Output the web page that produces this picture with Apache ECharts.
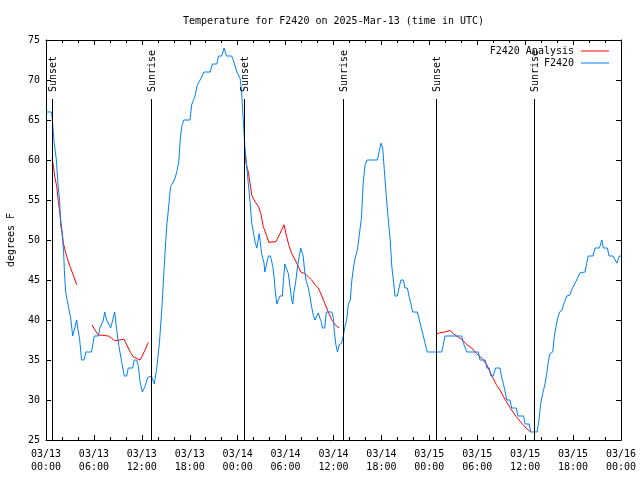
<!DOCTYPE html>
<html>
<head>
<meta charset="utf-8">
<script src="https://cdn.jsdelivr.net/npm/echarts@6/dist/echarts.min.js"></script>
<style>html,body{margin:0;padding:0;background:#fff}#c{width:640px;height:480px}</style>
</head>
<body>
<div id="c"></div>
<script>
// Hours since 03/13 00:00 UTC
const xTickLabels = ['03/13\n00:00','03/13\n06:00','03/13\n12:00','03/13\n18:00','03/14\n00:00','03/14\n06:00','03/14\n12:00','03/14\n18:00','03/15\n00:00','03/15\n06:00','03/15\n12:00','03/15\n18:00','03/16\n00:00'];

const stationHours = [0.0,0.7,0.8,1.0,1.3,1.5,1.7,1.85,2.0,2.2,2.3,2.46,2.8,3.1,3.34,3.6,3.84,3.97,4.2,4.46,4.75,5.0,5.7,6.05,6.55,6.76,6.97,7.18,7.35,7.6,7.8,8.1,8.35,8.6,8.85,9.1,9.47,9.8,10.1,10.3,10.85,11.05,11.35,11.56,11.77,12.06,12.4,12.73,12.9,13.2,13.56,13.85,14.2,14.5,14.78,15.1,15.4,15.6,15.8,16.15,16.4,16.65,16.8,17.0,17.25,18.03,18.24,18.45,18.66,18.95,19.3,19.55,19.8,20.55,20.85,21.4,21.6,22.0,22.3,22.6,23.25,23.45,23.9,24.3,24.5,24.7,24.9,25.1,25.33,25.55,25.76,25.96,26.17,26.4,26.6,26.7,26.9,27.0,27.3,27.4,27.6,27.84,28.1,28.4,28.55,28.7,28.9,29.1,29.3,29.6,29.7,29.9,30.14,30.35,30.55,30.77,30.9,31.05,31.27,31.47,31.7,31.9,32.1,32.2,32.4,32.6,32.85,33.06,33.27,33.47,33.68,33.9,34.1,34.3,34.5,34.6,34.9,35.1,35.8,36.0,36.1,36.3,36.5,36.7,37.0,37.2,37.4,37.65,37.86,38.1,38.3,38.5,38.7,39.0,39.2,39.3,39.5,39.7,39.95,40.2,41.5,41.7,41.95,42.16,42.36,42.6,42.9,43.1,43.3,43.5,43.7,44.0,44.2,44.45,44.75,44.95,45.25,45.45,45.7,45.9,46.5,46.75,47.0,47.25,47.46,47.75,49.55,49.75,49.96,52.05,52.26,52.5,52.7,54.13,54.35,55.0,55.2,55.5,55.7,56.0,56.3,56.85,57.06,57.3,57.5,57.7,58.1,58.3,58.9,59.1,59.8,60.0,60.5,60.7,61.5,61.77,61.95,62.2,62.5,62.7,62.9,63.1,63.45,63.65,63.86,64.07,64.3,64.6,64.8,65.0,65.2,65.6,65.8,66.05,66.25,66.45,66.65,66.87,67.1,67.5,67.7,67.9,68.5,68.75,69.3,69.6,69.8,70.3,70.5,71.0,71.5,71.8,72.0];
const stationTemps = [66,66,65,62.3,60,57,55,51.7,51,48.7,46.2,43.5,41.7,40.2,38,39,40,39,37.7,35,35,36,36,38,38,39,39,40,41,40,40,39,40,41,38.8,36.9,34.8,33,33,34,34,35,35,34.3,32.3,31,31.7,32.8,33,33,32,33.8,37.1,41.3,46.3,51.5,54.6,56.7,57,57.7,58.6,60,62.5,64.2,65,65,66.9,67,68,69.4,70,70,71,71,72,72,73,73,74,73,73,72.5,71,70.2,68.5,65,61.7,59.6,57.1,54.8,52.1,51,49.8,49,49,50.8,50.8,48.3,47.1,46,46,48,48,46.7,45.4,43.7,42,42,43,43,44.6,47,47,45.8,44.2,42.5,42,43.5,44.8,46.5,47.9,49,49,48,46,44.8,44,42.9,41.6,40.6,40,40,40.9,40.2,39.7,39,39,41,41,40.2,38.5,36.9,36,36.9,37.1,37.9,39,40,42,42.5,45,46.5,47.7,48.8,50.4,51.2,52.7,56.9,59.4,60,60,61,62.1,61.5,58.8,55.6,52.1,50,46.7,45,43,43,44,45,45,44,44,43,42,41,41,40,40,38,37.1,36,36,36.9,38,38,37.1,37,36,36,35,35,34,34,33,33,34,34,32.8,31.9,31,30,30,29,29,28,28,27,27,26,26,27.9,29.6,30.8,32.1,33.3,34.8,35.8,36,37.9,39.2,40.2,41,41.2,41.9,42,43,43.1,43.75,44,44.6,45,45,45.9,46,46,47.1,48,48,49,49,50,49,49,48,48,47.1,48,48];

// Analysis segments (null = gap)
const analysisHours = [0.77,0.93,1.1,1.34,1.55,1.76,1.96,2.17,2.6,3.0,3.42,3.84,4.5,
  5.76,6.13,6.55,6.97,7.8,8.2,8.6,9.27,9.77,10.1,10.6,10.94,11.35,11.77,12.0,12.4,12.8,13.5,
  24.85,25.05,25.33,25.55,25.76,26.17,26.6,26.9,27.2,27.4,27.6,27.9,28.8,29.3,29.8,30.14,30.4,30.77,31.2,31.6,31.9,32.4,32.85,33.27,33.7,34.1,34.5,34.9,35.35,35.8,36.2,36.7,37.5,
  48.83,49.3,49.96,50.6,51.0,51.4,52.05,52.7,53.3,53.9,54.6,55.2,55.6,56.0,56.4,56.85,57.3,57.7,58.3,58.9,59.57,60.2,60.7];
const analysisTemps = [60.2,59.2,57.9,56.7,54.8,53.1,51.5,49.6,47.9,46.7,45.6,44.4,null,
  39.4,38.75,38.1,38.1,38,37.75,37.4,37.5,37.6,36.9,35.9,35.4,35.2,35,35.4,36.25,37.2,null,
  61.5,59.6,58.5,57.1,55.6,54.8,54.2,53.3,51.7,51.5,50.6,49.7,49.8,50.8,51.9,50.4,49.4,48.3,47.5,46.7,46,45.8,45.4,45,44.4,44,43.1,42.1,41,40,39.4,39,null,
  38.2,38.4,38.5,38.7,38.3,38,37.6,36.9,36.5,35.8,35.2,34.4,33.5,32.7,31.9,31.25,30.4,29.7,28.75,27.9,27.1,26.4,26];

const eventHours = [0.79,13.2,24.85,37.13,48.87,61.15];
const eventLabels = ['Sunset','Sunrise','Sunset','Sunrise','Sunset','Sunrise'];

const FONT = '"DejaVu Sans Mono", "Liberation Mono", monospace';

const stationData = stationHours.map((h,i)=>[h, stationTemps[i]]);
const analysisData = analysisHours.map((h,i)=>[h, analysisTemps[i]===null ? '-' : analysisTemps[i]]);
const eventData = eventHours.map(h=>[h, 25]);

const chart = echarts.init(document.getElementById('c'), null, {renderer:'canvas'});

const axisCommon = {
  axisLine:{show:true, onZero:false, lineStyle:{color:'#000', width:1}},
  axisTick:{show:true, inside:true, length:5, lineStyle:{color:'#000'}},
  splitLine:{show:false}
};

chart.setOption({
  animation:false,
  backgroundColor:'#fff',
  title:{
    text:'Temperature for F2420 on 2025-Mar-13 (time in UTC)',
    left:183, top:11, padding:[5,0,5,0],
    textStyle:{fontFamily:FONT, fontSize:10, fontWeight:'normal', color:'#000'}
  },
  legend:{
    data:[{name:'F2420 Analysis', icon:'rect'},{name:'F2420', icon:'rect'}],
    orient:'vertical', right:31, top:45, align:'right', padding:0,
    itemWidth:28, itemHeight:1, itemGap:0,
    textStyle:{fontFamily:FONT, fontSize:10, color:'#000', lineHeight:12, padding:[0,2,0,0]}
  },
  grid:{left:46, right:19, top:40, bottom:40, outerBoundsMode:'none', containLabel:false},
  xAxis:[
    Object.assign({}, axisCommon, {
      type:'value', min:0, max:72, interval:6, position:'bottom',
      minorTick:{show:true, splitNumber:3, length:3, lineStyle:{color:'#000'}},
      axisLabel:{show:true, margin:8, color:'#000', fontFamily:FONT, fontSize:10, lineHeight:13,
        formatter:v=>xTickLabels[Math.round(v/6)]}
    }),
    Object.assign({}, axisCommon, {
      type:'value', min:0, max:72, interval:6, position:'top',
      minorTick:{show:true, splitNumber:3, length:3, lineStyle:{color:'#000'}},
      axisLabel:{show:false}
    })
  ],
  yAxis:[
    Object.assign({}, axisCommon, {
      type:'value', min:25, max:75, interval:5, position:'left',
      name:'degrees F', nameLocation:'middle', nameGap:30, nameRotate:90,
      nameTextStyle:{fontFamily:FONT, fontSize:10, color:'#000'},
      axisLabel:{show:true, margin:6, color:'#000', fontFamily:FONT, fontSize:10}
    }),
    Object.assign({}, axisCommon, {
      type:'value', min:25, max:75, interval:5, position:'right',
      axisLabel:{show:false}
    })
  ],
  series:[
    {
      name:'F2420 Analysis', type:'line', data:analysisData,
      xAxisIndex:0, yAxisIndex:0,
      symbol:'none', showSymbol:false, connectNulls:false,
      lineStyle:{color:'#ff0000', width:1}, itemStyle:{color:'#ff0000'},
      z:2
    },
    {
      name:'F2420', type:'line', data:stationData,
      xAxisIndex:0, yAxisIndex:0,
      symbol:'none', showSymbol:false,
      lineStyle:{color:'#0080ff', width:1}, itemStyle:{color:'#0080ff'},
      z:3
    },
    {
      name:'events', type:'custom', data:eventData,
      xAxisIndex:0, yAxisIndex:0, z:4, silent:true,
      renderItem:(params, api)=>{
        const h = api.value(0);
        const top = api.coord([h, 75]);
        const bot = api.coord([h, 25]);
        const x = Math.round(top[0]) + 0.5;
        return {type:'group', children:[
          {type:'line', shape:{x1:x, y1:top[1]+59, x2:x, y2:bot[1]}, style:{stroke:'#000', lineWidth:1}},
          {type:'text', x:x+1, y:top[1]+52, rotation:Math.PI/2,
            style:{text:eventLabels[params.dataIndex], font:'10px '+FONT, fill:'#000', align:'left', verticalAlign:'middle'}}
        ]};
      }
    }
  ]
});
</script>
</body>
</html>
